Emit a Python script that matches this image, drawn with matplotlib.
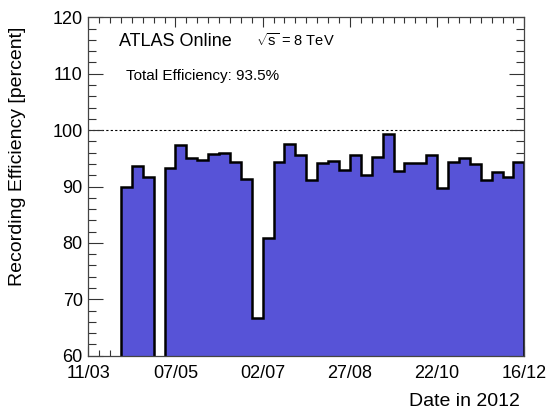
import matplotlib
matplotlib.use("Agg")
import matplotlib.pyplot as plt
from matplotlib.ticker import MultipleLocator
import numpy as np

plt.rcParams["font.family"] = ["Liberation Sans", "DejaVu Sans"]
plt.rcParams["mathtext.fontset"] = "custom"
plt.rcParams["mathtext.rm"] = "Liberation Sans"
plt.rcParams["mathtext.it"] = "Liberation Sans"

# weekly recording efficiency in percent (0 = no data)
efficiency = [0, 0, 0, 89.9, 93.6, 91.7, 0, 93.3, 97.4, 95.0,
              94.7, 95.8, 96.0, 94.3, 91.3, 66.7, 80.8, 94.3, 97.5, 95.6,
              91.2, 94.2, 94.5, 93.0, 95.6, 92.0, 95.2, 99.3, 92.8, 94.1,
              94.1, 95.6, 89.8, 94.4, 95.0, 94.0, 91.2, 92.5, 91.6, 94.3]
date_labels = ["11/03", "07/05", "02/07", "27/08", "22/10", "16/12"]
total_eff = 93.5

n_weeks = len(efficiency)
edges = np.arange(n_weeks + 1)

fig = plt.figure(figsize=(5.5, 4.12), dpi=100)
ax = fig.add_axes([0.1605, 0.1366, 0.7928, 0.8214])

ax.stairs(efficiency, edges, baseline=0, fill=True, color="#5753d7", zorder=2)
ax.stairs(efficiency, edges, baseline=0, color="black", lw=1.8, zorder=3)
ax.axhline(100, color="black", lw=0.8, ls=(0, (2, 2)), zorder=1)

ax.set_xlim(0, n_weeks)
ax.set_ylim(60, 120)
ax.set_xticks(np.arange(0, n_weeks + 1, 8))
ax.set_xticklabels(date_labels)
ax.xaxis.set_minor_locator(MultipleLocator(1))
ax.yaxis.set_major_locator(MultipleLocator(10))
ax.yaxis.set_minor_locator(MultipleLocator(2))

ax.tick_params(which="both", direction="in", top=True, right=True,
               labelsize=13, color="#333333", width=0.8)
ax.tick_params(axis="x", which="major", length=7, pad=7)
ax.tick_params(axis="x", which="minor", length=4)
ax.tick_params(axis="y", which="major", length=11, pad=4)
ax.tick_params(axis="y", which="minor", length=6)
for s in ax.spines.values():
    s.set_color("#444444")
    s.set_linewidth(0.9)
    s.set_zorder(4)

# axis titles placed ROOT-style (aligned towards the top / right end)
fig.text(18 / 550, 1 - 156 / 412, "Recording Efficiency [percent]",
         fontsize=14, rotation=90, ha="center", va="center")
fig.text(520 / 550, 1 - 406 / 412, "Date in 2012", fontsize=14,
         ha="right", va="baseline")

fig.text(119 / 550, 1 - 45.7 / 412, "ATLAS Online", fontsize=13,
         ha="left", va="baseline")
fig.text(256 / 550, 1 - 45.7 / 412, r"$\sqrt{s}$ = 8 TeV", fontsize=10.5,
         ha="left", va="baseline")
fig.text(126 / 550, 1 - 80 / 412, f"Total Efficiency: {total_eff}%",
         fontsize=11, ha="left", va="baseline")

fig.savefig("out.png", dpi=100)
